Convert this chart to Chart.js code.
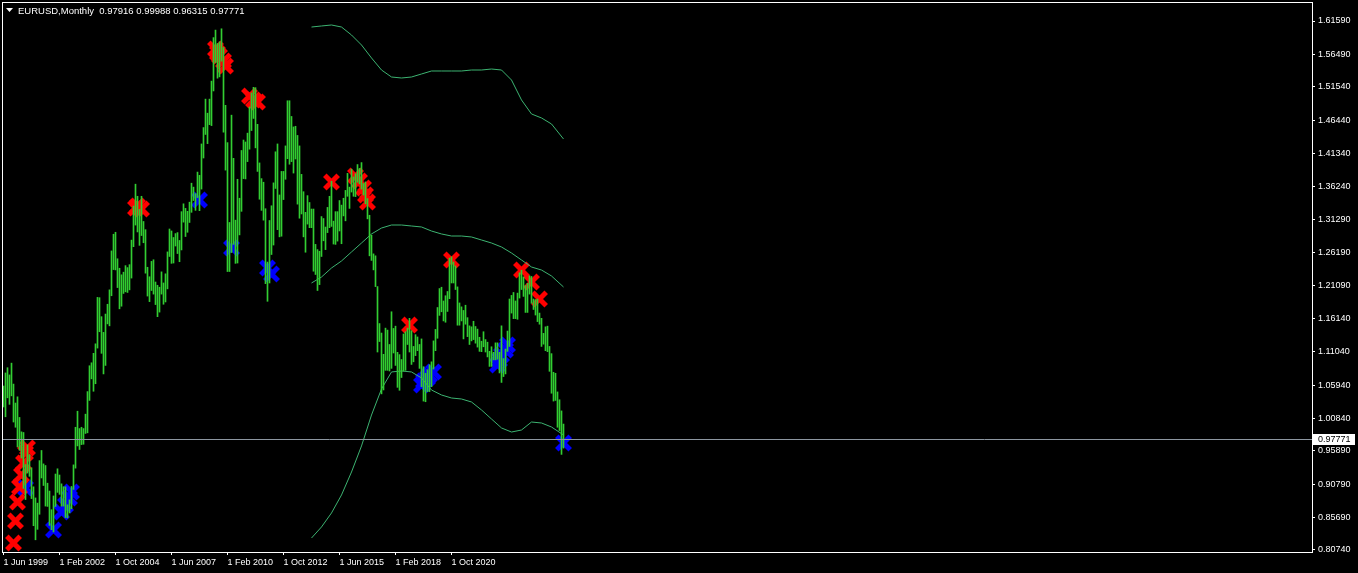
<!DOCTYPE html>
<html><head><meta charset="utf-8">
<script src="https://cdn.jsdelivr.net/npm/chart.js@4.4.0/dist/chart.umd.min.js"></script>
<style>html,body{margin:0;padding:0;background:#000;overflow:hidden}#wrap{position:relative;width:1358px;height:573px}</style>
</head><body><div id="wrap"><canvas id="c" width="1358" height="573"></canvas></div>
<script>
const symbolTitle = "EURUSD,Monthly";
const lastOHLC = [0.97916, 0.99988, 0.96315, 0.97771];

// Monthly bars, first bar = Jun 1999, last bar = Oct 2022
const highs = [
1.0580,1.0780,1.0860,1.0750,1.0930,1.0610,1.0320,
1.0415,1.0100,0.9880,0.9870,0.9380,0.9680,0.9530,0.9330,0.9040,0.8870,0.8790,0.9440,
0.9595,0.9390,0.9365,0.9095,0.8975,0.8690,0.8900,0.9235,0.9315,0.9220,0.9085,0.9040,
0.9040,0.8765,0.8840,0.9045,0.9375,0.9950,1.0195,0.9930,0.9950,0.9930,1.0150,1.0495,
1.0890,1.0935,1.1080,1.1225,1.1935,1.1930,1.1640,1.1400,1.1680,1.1830,1.2050,1.2645,
1.2900,1.2930,1.2525,1.2380,1.2280,1.2320,1.2420,1.2390,1.2435,1.2810,1.3330,1.3665,
1.3480,1.3280,1.3480,1.3095,1.2970,1.2395,1.2250,1.2485,1.2510,1.2170,1.2120,1.2090,
1.2325,1.2155,1.2295,1.2630,1.2980,1.2950,1.2850,1.2910,1.2925,1.2805,1.3245,1.3365,
1.3295,1.3250,1.3390,1.3680,1.3620,1.3520,1.3850,1.3800,1.4280,1.4530,1.4965,1.4750,
1.4965,1.5240,1.5905,1.6020,1.5815,1.5840,1.6040,1.5755,1.4870,1.4300,1.3080,1.4720,
1.4060,1.3115,1.3740,1.3450,1.4180,1.4340,1.4310,1.4445,1.4845,1.5060,1.5145,1.5140,
1.4580,1.3990,1.3750,1.3695,1.3290,1.2475,1.3110,1.3335,1.3685,1.4160,1.4280,1.3500,
1.3860,1.3860,1.4250,1.4940,1.4940,1.4700,1.4540,1.4550,1.4410,1.4250,1.3815,1.3550,
1.3235,1.3490,1.3385,1.3285,1.3285,1.2745,1.2665,1.2640,1.3170,1.3140,1.3010,1.3310,
1.3480,1.3710,1.3100,1.3245,1.3245,1.3415,1.3345,1.3450,1.3570,1.3830,1.3620,1.3895,
1.3775,1.3825,1.3965,1.3905,1.3995,1.3675,1.3700,1.3445,1.3190,1.2885,1.2600,1.2570,
1.2100,1.1535,1.1390,1.1065,1.1465,1.1435,1.1215,1.1715,1.1460,1.1495,1.1095,1.1060,
1.0985,1.1375,1.1410,1.1465,1.1615,1.1425,1.1185,1.1365,1.1330,1.1215,1.1300,1.0875,
1.0775,1.0830,1.0905,1.0950,1.1270,1.1445,1.1780,1.2070,1.2090,1.1880,1.1960,1.2025,
1.2535,1.2555,1.2475,1.2415,1.2095,1.1850,1.1790,1.1735,1.1815,1.1625,1.1500,1.1485,
1.1570,1.1490,1.1450,1.1325,1.1265,1.1410,1.1290,1.1250,1.1110,1.1180,1.1095,1.1240,
1.1240,1.1095,1.1500,1.1000,1.1145,1.1420,1.1910,1.1965,1.2010,1.1880,1.2000,1.2310,
1.2350,1.2245,1.2115,1.2150,1.2265,1.2255,1.1910,1.1900,1.1910,1.1695,1.1615,1.1385,
1.1485,1.1495,1.1185,1.1075,1.0790,1.0775,1.0490,1.0370,1.0200,0.99988
];
const lows = [
1.0260,1.0110,1.0400,1.0300,1.0430,1.0030,0.9950,
0.9650,0.9600,0.9480,0.9015,0.8845,0.9250,0.9200,0.8860,0.8445,0.8230,0.8390,0.8620,
0.9175,0.9060,0.8745,0.8740,0.8450,0.8385,0.8350,0.8740,0.8955,0.8925,0.8745,0.8745,
0.8570,0.8565,0.8640,0.8705,0.9000,0.9325,0.9665,0.9610,0.9685,0.9690,0.9855,0.9865,
1.0360,1.0690,1.0500,1.0615,1.1160,1.1410,1.1080,1.0765,1.0895,1.1530,1.1500,1.1960,
1.2360,1.2355,1.2085,1.1760,1.1800,1.1995,1.2020,1.2010,1.2050,1.2230,1.2710,1.3040,
1.2935,1.2730,1.2880,1.2770,1.2305,1.1955,1.1870,1.2040,1.1985,1.1825,1.1640,1.1710,
1.1985,1.1830,1.1865,1.2065,1.2560,1.2455,1.2460,1.2720,1.2605,1.2480,1.2660,1.3085,
1.2865,1.2930,1.3080,1.3235,1.3415,1.3265,1.3460,1.3260,1.3590,1.4065,1.4425,1.4285,
1.4575,1.4560,1.5090,1.5525,1.5285,1.5305,1.5545,1.4460,1.3880,1.2330,1.2330,1.2620,
1.2745,1.2455,1.2460,1.2890,1.3250,1.3750,1.3745,1.4010,1.4200,1.4485,1.4670,1.4220,
1.3860,1.3435,1.3265,1.3115,1.2145,1.1875,1.2155,1.2590,1.2735,1.3600,1.2970,1.2860,
1.2870,1.3430,1.3740,1.4055,1.3970,1.4010,1.3835,1.4050,1.3360,1.3145,1.3210,1.2860,
1.2625,1.3055,1.3000,1.3000,1.2335,1.2285,1.2040,1.2130,1.2560,1.2800,1.2665,1.2925,
1.3000,1.3020,1.2750,1.2745,1.2795,1.2950,1.2755,1.3180,1.3105,1.3480,1.3295,1.3545,
1.3480,1.3475,1.3695,1.3670,1.3590,1.3500,1.3365,1.3135,1.2570,1.2500,1.2355,1.2100,
1.1100,1.1260,1.0460,1.0520,1.0820,1.0820,1.0810,1.0850,1.1085,1.0895,1.0560,1.0515,
1.0710,1.0810,1.0820,1.1215,1.1100,1.0910,1.0950,1.1045,1.1120,1.0850,1.0570,1.0350,
1.0340,1.0495,1.0495,1.0570,1.0840,1.1120,1.1310,1.1660,1.1715,1.1575,1.1555,1.1720,
1.1915,1.2155,1.2155,1.2055,1.1510,1.1510,1.1575,1.1300,1.1525,1.1335,1.1215,1.1270,
1.1290,1.1235,1.1175,1.1110,1.1105,1.1180,1.1100,1.1025,1.0880,1.0880,1.0980,1.0980,
1.0990,1.0780,1.0635,1.0725,1.0765,1.1110,1.1185,1.1695,1.1610,1.1610,1.1600,1.1925,
1.2055,1.1950,1.1705,1.1705,1.1985,1.1845,1.1750,1.1665,1.1565,1.1525,1.1185,1.1220,
1.1120,1.1105,1.0805,1.0470,1.0350,1.0360,0.9950,0.9900,0.9535,0.96315
];

const xTickIdx = [0, 28, 56, 84, 112, 140, 168, 196, 224];
const xTickLabels = ["1 Jun 1999","1 Feb 2002","1 Oct 2004","1 Jun 2007","1 Feb 2010","1 Oct 2012","1 Jun 2015","1 Feb 2018","1 Oct 2020"];
const yTickValues = [1.61590,1.56490,1.51540,1.46440,1.41340,1.36240,1.31290,1.26190,1.21090,1.16140,1.11040,1.05940,1.00840,0.95890,0.90790,0.85690,0.80740];

const redIdx = [5,6,7,8,9,10,11,12, 66,67,69, 106,107,108,110,111, 123,125,127, 164, 176,178,180,181,182, 203, 224, 259,264,268];
const redVal = [0.8181,0.8517,0.8808,0.9037,0.9220,0.9404,0.9556,0.9633, 1.3301,1.3332,1.3286, 1.5731,1.5670,1.5624,1.5548,1.5471, 1.5013,1.4952,1.4921, 1.3698, 1.3790,1.3714,1.3607,1.3500,1.3393, 1.1513, 1.2506, 1.2353,1.2170,1.1910];
const blueIdx = [11, 25, 29,31,33,34, 98, 114, 132,134, 209,210,212,213,215, 247,248,249,251,252, 280];
const blueVal = [0.9022, 0.8380, 0.8655,0.8762,0.8869,0.8960, 1.3423, 1.2690, 1.2384,1.2292, 1.0596,1.0657,1.0703,1.0749,1.0795, 1.0901,1.0978,1.1054,1.1131,1.1207, 0.9709];

const bandIdx = [154,159,164,169,174,179,184,189,194,199,204,209,214,219,224,229,234,239,244,249,254,259,264,269,274,280];
const upperBand = [1.6067,1.6083,1.6098,1.6067,1.5945,1.5792,1.5594,1.5410,1.5303,1.5288,1.5303,1.5349,1.5395,1.5395,1.5395,1.5395,1.5410,1.5410,1.5425,1.5410,1.5257,1.4952,1.4738,1.4677,1.4585,1.4356];
const middleBand = [1.2155,1.2246,1.2384,1.2491,1.2629,1.2766,1.2904,1.2995,1.3041,1.3041,1.3026,1.3011,1.2949,1.2904,1.2873,1.2873,1.2858,1.2812,1.2766,1.2705,1.2613,1.2506,1.2399,1.2353,1.2262,1.2094];
const lowerBand = [0.8257,0.8426,0.8640,0.8915,0.9266,0.9664,1.0137,1.0535,1.0795,1.0810,1.0795,1.0703,1.0519,1.0443,1.0397,1.0382,1.0336,1.0214,1.0076,0.9939,0.9877,0.9908,1.0030,1.0015,0.9954,0.9832];

const FONT_FAMILY = "'Liberation Sans', Arial, sans-serif";
const TICK_FONT = {family: FONT_FAMILY, size: 9};
const BAR_COLOR = '#32CD32';
const BAND_COLOR = '#3CB371';

function pts(xs, ys) { return xs.map((x, k) => ({x: x, y: ys[k]})); }

const framePlugin = {
  id: 'mtFrame',
  afterDatasetsDraw(chart) {
    const {ctx, chartArea: a, scales: {y}} = chart;
    const py = Math.round(y.getPixelForValue(lastOHLC[3])) + 0.5;
    ctx.save();
    ctx.strokeStyle = '#8c96a0';
    ctx.lineWidth = 1;
    ctx.beginPath(); ctx.moveTo(a.left, py); ctx.lineTo(a.right, py); ctx.stroke();
    ctx.restore();
  },
  afterDraw(chart) {
    const {ctx, chartArea: a, scales: {y}} = chart;
    ctx.save();
    ctx.strokeStyle = '#ffffff';
    ctx.lineWidth = 1;
    ctx.strokeRect(a.left + 0.5, a.top + 0.5, a.right - a.left, a.bottom - a.top);
    ctx.fillStyle = '#ffffff';
    ctx.beginPath(); ctx.moveTo(6, 8); ctx.lineTo(13, 8); ctx.lineTo(9.5, 12); ctx.closePath(); ctx.fill();
    ctx.font = "9.5px " + FONT_FAMILY;
    ctx.textBaseline = 'alphabetic';
    ctx.textAlign = 'left';
    ctx.fillText(symbolTitle + "  " + lastOHLC.map(v => v.toFixed(5)).join(" "), 18, 14);
    const lastClose = lastOHLC[3];
    const py = Math.round(y.getPixelForValue(lastClose));
    ctx.fillStyle = '#ffffff';
    ctx.fillRect(a.right + 1, py - 5, 42, 11);
    ctx.fillStyle = '#000000';
    ctx.font = "9px " + FONT_FAMILY;
    ctx.textBaseline = 'middle';
    ctx.fillText(lastClose.toFixed(5), a.right + 6, py + 0.5);
    ctx.restore();
  }
};

new Chart(document.getElementById('c'), {
  type: 'bar',
  data: {
    datasets: [
      { type: 'bar', data: highs.map((h, i) => ({x: i, y: [lows[i], h]})), backgroundColor: BAR_COLOR,
        barThickness: 1, borderWidth: 0, order: 0 },
      { type: 'line', data: pts(bandIdx, upperBand), borderColor: BAND_COLOR, borderWidth: 1, pointRadius: 0, order: 1 },
      { type: 'line', data: pts(bandIdx, middleBand), borderColor: BAND_COLOR, borderWidth: 1, pointRadius: 0, order: 1 },
      { type: 'line', data: pts(bandIdx, lowerBand), borderColor: BAND_COLOR, borderWidth: 1, pointRadius: 0, order: 1 },
      { type: 'line', showLine: false, data: pts(redIdx, redVal), pointStyle: 'crossRot', pointRadius: 9.5,
        pointBorderWidth: 5, pointBorderColor: '#ff0000', pointBackgroundColor: '#ff0000', order: 2 },
      { type: 'line', showLine: false, data: pts(blueIdx, blueVal), pointStyle: 'crossRot', pointRadius: 9.5,
        pointBorderWidth: 5, pointBorderColor: '#0000ff', pointBackgroundColor: '#0000ff', order: 2 }
    ]
  },
  options: {
    responsive: false, animation: false,
    layout: {autoPadding: false, padding: {left: 2, top: 2, right: 0, bottom: 0}},
    plugins: {legend: {display: false}, tooltip: {enabled: false}},
    scales: {
      x: {
        type: 'linear', min: -0.75, max: 654.25, offset: false, position: 'bottom',
        afterBuildTicks: s => { s.ticks = xTickIdx.map(v => ({value: v})); },
        afterFit: s => { s.height = 21; s.paddingLeft = 0; s.paddingRight = 0; },
        ticks: {callback: (v, i) => xTickLabels[i], align: 'start', color: '#ffffff', font: TICK_FONT,
                padding: 2, maxRotation: 0, autoSkip: false},
        grid: {offset: false, drawOnChartArea: false, drawTicks: true, tickLength: 3, color: '#ffffff'},
        border: {display: true, color: '#ffffff'}
      },
      y: {
        type: 'linear', position: 'right', min: 0.80434, max: 1.64494,
        afterBuildTicks: s => { s.ticks = yTickValues.map(v => ({value: v})); },
        afterFit: s => { s.width = 46; s.paddingTop = 0; s.paddingBottom = 0; },
        ticks: {callback: v => v.toFixed(5), color: '#ffffff', font: TICK_FONT, padding: 3, autoSkip: false},
        grid: {drawOnChartArea: false, drawTicks: true, tickLength: 3, color: '#ffffff'},
        border: {display: true, color: '#ffffff'}
      }
    }
  },
  plugins: [framePlugin]
});
</script>
</body></html>
